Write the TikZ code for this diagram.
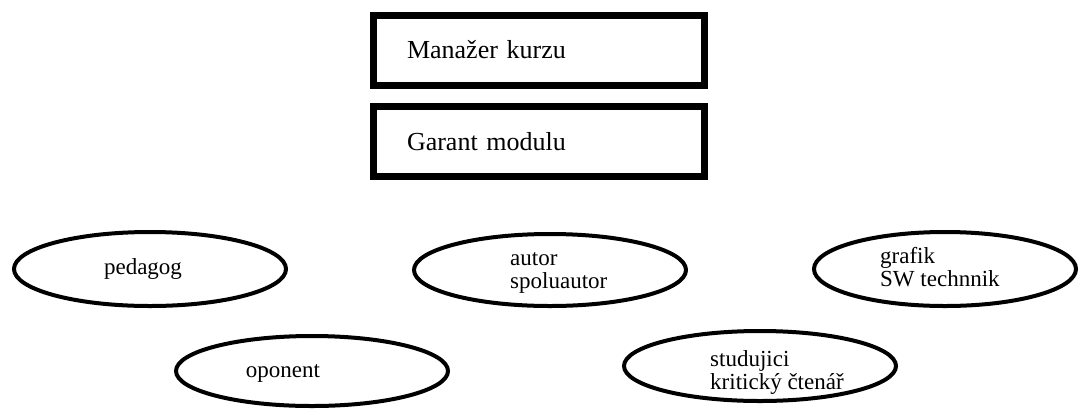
\documentclass[tikz,border=0pt]{standalone}
\usepackage{fontspec}
\setmainfont{Liberation Serif}
\usetikzlibrary{shapes.geometric}
\begin{document}
\begin{tikzpicture}[x=1pt,y=-1pt,
  rolebox/.style={draw, line width=7pt, minimum height=70pt,
    text width=264pt, inner xsep=33.5pt, align=left,
    font=\fontsize{26}{30}\selectfont},
  role/.style={draw, ellipse, line width=4pt, inner sep=0pt},
  roletext/.style={font=\fontsize{23}{23}\selectfont, align=left, inner sep=0pt}]
\useasboundingbox[fill=white] (0,0) rectangle (1079,408);

% management boxes
\node[rolebox] (manazer) at (539,50) {Manažer kurzu};
\node[rolebox] (garant) at (539,141.5) {Garant modulu};

% team roles
\node[role, minimum width=272pt, minimum height=74pt] (pedagog) at (150,269) {};
\node[role, minimum width=272pt, minimum height=72pt] (autor) at (550,270) {};
\node[role, minimum width=262pt, minimum height=74pt] (grafik) at (945,269) {};
\node[role, minimum width=272pt, minimum height=70pt] (oponent) at (312,371) {};
\node[role, minimum width=272pt, minimum height=70pt] (studujici) at (760,366) {};

\node[roletext, anchor=base] (pedagogT) at (143,274) {pedagog};
\node[roletext, anchor=west] (autorT) at (510,273) {autor\\spoluautor};
\node[roletext, anchor=west] (grafikT) at (880,267) {grafik\\SW technnik};
\node[roletext, anchor=base] (oponentT) at (283,377) {oponent};
\node[roletext, anchor=west] (studujiciT) at (710,372) {studujici\\kritický čtenář};
\end{tikzpicture}
\end{document}
